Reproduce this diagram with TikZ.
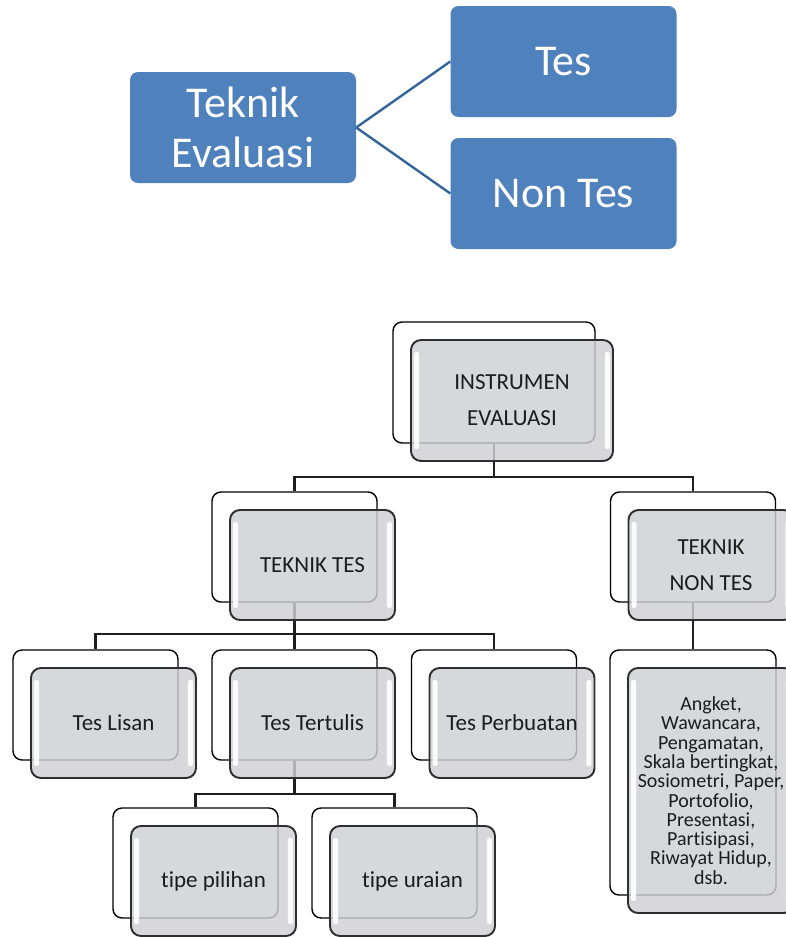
\documentclass[tikz,border=0pt]{standalone}
\usepackage{fontspec}
\setmainfont{Carlito}[Ligatures=NoCommon]
\definecolor{topblue}{HTML}{4F81BD}
\definecolor{toplink}{HTML}{34649C}
\definecolor{cardgray}{HTML}{CFD0D4}
\definecolor{cardedge}{HTML}{2E2E2E}
\definecolor{cardtext}{HTML}{1C1C1C}
\tikzset{
  topbox/.style={rectangle, rounded corners=8pt, fill=topblue, draw=none,
    text=white, align=center, inner sep=0pt,
    minimum width=226pt, minimum height=111pt,
    font=\fontsize{44}{50}\selectfont},
  toplinkline/.style={draw=toplink, line width=2.4pt},
  backcard/.style={rectangle, rounded corners=9pt, draw=black, line width=1.4pt,
    fill=white, inner sep=0pt},
  frontcard/.style={rectangle, rounded corners=10pt, draw=cardedge, line width=1.9pt,
    fill=cardgray, fill opacity=0.82, text opacity=1, text=cardtext,
    align=center, inner sep=0pt, font=\fontsize{23}{36}\selectfont},
  smallcard/.style={minimum width=165pt, minimum height=110pt},
  wire/.style={draw=black!88, line width=2.2pt},
  shine/.style={fill=white, opacity=0.9, rounded corners=2pt},
}
% white glossy strips along the left and right inner edges of a card
\newcommand{\cardshine}[1]{%
  \fill[shine] ([xshift=4pt,yshift=-13pt]#1.north west) rectangle ([xshift=9pt,yshift=13pt]#1.south west);
  \fill[shine] ([xshift=-9pt,yshift=-13pt]#1.north east) rectangle ([xshift=-4pt,yshift=13pt]#1.south east);
}
\begin{document}
\begin{tikzpicture}[x=1pt,y=-1pt]
\useasboundingbox (0,0) rectangle (786,937);

% ---- upper diagram: evaluation techniques ----
\node[topbox] (tek) at (243,127.5) {Teknik\\Evaluasi};
\node[topbox] (tes) at (563.5,61.5) {Tes};
\node[topbox] (nontes) at (563.5,193.5) {Non Tes};
\draw[toplinkline] (tek.east) -- (tes.west);
\draw[toplinkline] (tek.east) -- (nontes.west);

% ---- lower diagram: back cards ----
\node[backcard, minimum width=202pt, minimum height=121pt] (instr-b) at (494,382.5) {};
\node[backcard, smallcard] (tt-b)    at (294.5,547) {};
\node[backcard, smallcard] (tnt-b)   at (693,547) {};
\node[backcard, smallcard] (lisan-b) at (95.5,705) {};
\node[backcard, smallcard] (tulis-b) at (294.5,705) {};
\node[backcard, smallcard] (buat-b)  at (494,705) {};
\node[backcard, minimum width=166pt, minimum height=245pt] (list-b) at (693,772.5) {};
\node[backcard, smallcard] (pilih-b) at (195.5,863) {};
\node[backcard, smallcard] (urai-b)  at (394.5,863) {};

% ---- connectors ----
\coordinate (busA) at (494,477);
\coordinate (busB) at (294.5,634);
\coordinate (busC) at (294.5,794);
\draw[wire] (instr-b.south) -- (busA) -| (tt-b.north);
\draw[wire] (busA) -| (tnt-b.north);
\draw[wire] (tt-b.south) -- (busB) -| (lisan-b.north);
\draw[wire] (busB) -- (tulis-b.north);
\draw[wire] (busB) -| (buat-b.north);
\draw[wire] (tnt-b.south) -- (list-b.north);
\draw[wire] (tulis-b.south) -- (busC) -| (pilih-b.north);
\draw[wire] (busC) -| (urai-b.north);

% ---- front cards ----
\node[frontcard, minimum width=202pt, minimum height=121pt] (instr) at (512,400.5) {INSTRUMEN\\EVALUASI};
\node[frontcard, smallcard] (tt)    at (312.5,565) {TEKNIK TES};
\node[frontcard, smallcard] (tnt)   at (711,565) {TEKNIK\\NON TES};
\node[frontcard, smallcard] (lisan) at (113.5,723) {Tes Lisan};
\node[frontcard, smallcard] (tulis) at (312.5,723) {Tes Tertulis};
\node[frontcard, smallcard] (buat)  at (512,723) {Tes Perbuatan};
\node[frontcard, minimum width=166pt, minimum height=245pt,
      font=\fontsize{20}{19.3}\selectfont] (list) at (711,790.5)
  {Angket,\\Wawancara,\\Pengamatan,\\Skala bertingkat,\\Sosiometri, Paper,\\Portofolio,\\Presentasi,\\Partisipasi,\\Riwayat Hidup,\\dsb.};
\node[frontcard, smallcard] (pilih) at (213.5,881) {tipe pilihan};
\node[frontcard, smallcard] (urai)  at (412.5,881) {tipe uraian};

\cardshine{instr}
\cardshine{tt}
\cardshine{tnt}
\cardshine{lisan}
\cardshine{tulis}
\cardshine{buat}
\cardshine{list}
\cardshine{pilih}
\cardshine{urai}
\end{tikzpicture}
\end{document}
